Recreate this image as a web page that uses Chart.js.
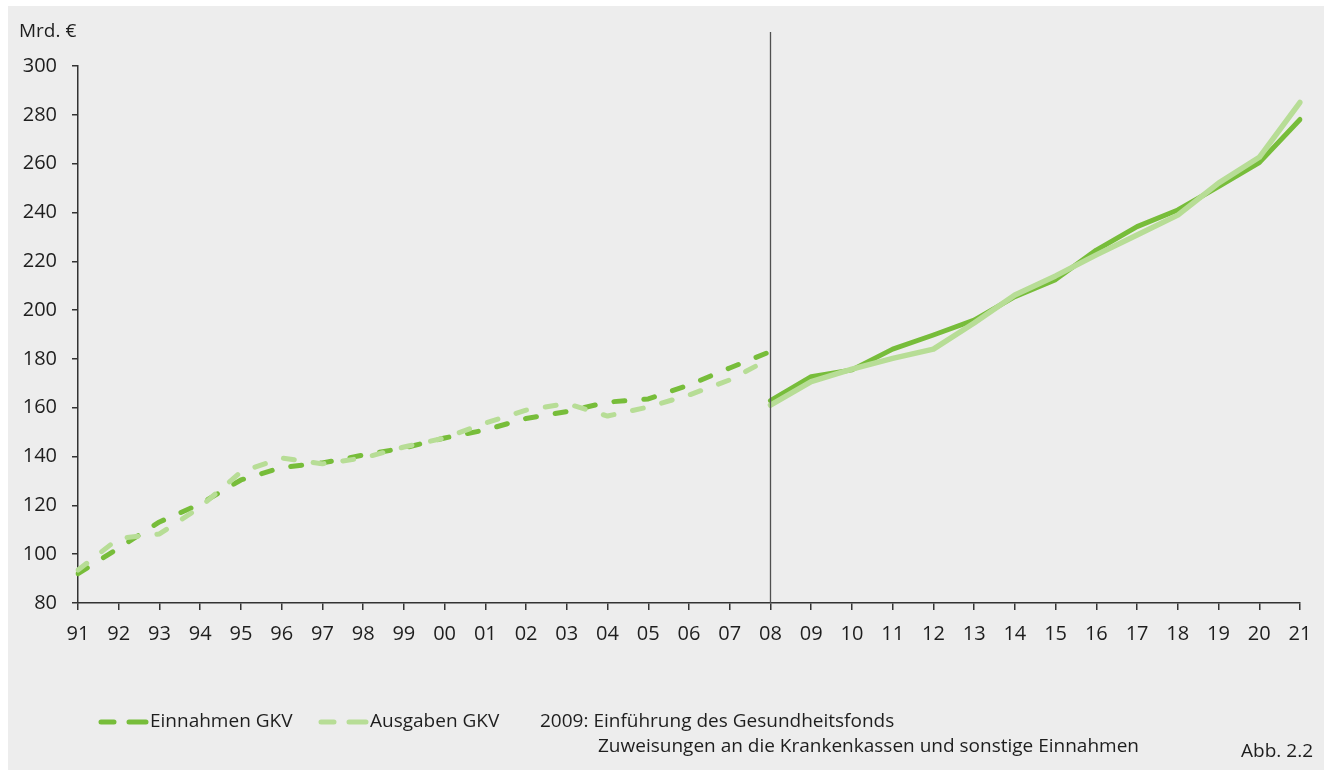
<!DOCTYPE html>
<html>
<head>
<meta charset="utf-8">
<script src="https://cdn.jsdelivr.net/npm/chart.js@4.4.1/dist/chart.umd.min.js"></script>
<style>
  html, body { margin: 0; padding: 0; background: #ffffff; }
  #wrap { width: 1325px; height: 771px; }
</style>
</head>
<body>
<div id="wrap"><canvas id="c" width="1325" height="771"></canvas></div>
<script>
// ---- Data ----
const years = ['91','92','93','94','95','96','97','98','99','00','01','02','03','04','05','06','07','08','09','10','11','12','13','14','15','16','17','18','19','20','21'];
// 1991–2008 (dashed)
const einnahmenBis2008 = [92, 102.5, 113.2, 120.6, 130.4, 135.5, 137.4, 140.6, 143.5, 147.6, 150.9, 155.6, 158.4, 162.3, 163.6, 169.3, 176.3, 183];
const ausgabenBis2008  = [93.5, 106.5, 108.3, 119.3, 133.7, 139.4, 137, 139.4, 143.9, 147.6, 153.7, 159, 161.7, 156.6, 160.3, 165.2, 171.4, 180.2];
// 2008–2021 (solid, ab 2009 Gesundheitsfonds)
const einnahmenAb2008 = [162.9, 172.7, 175.5, 184, 189.8, 195.9, 205.5, 212.5, 224.6, 234.2, 241, 250.6, 260.4, 278.1];
const ausgabenAb2008  = [161.1, 170.7, 175.8, 180.2, 184, 194.7, 206.2, 214, 222.6, 230.8, 238.9, 252, 262.6, 285.1];
const yTicks = [80,100,120,140,160,180,200,220,240,260,280,300];
const breakYear = '08';

const seriesNames = ['Einnahmen GKV', 'Ausgaben GKV'];
const noteLines = ['2009: Einführung des Gesundheitsfonds', 'Zuweisungen an die Krankenkassen und sonstige Einnahmen'];
const unitLabel = 'Mrd. €';
const figLabel = 'Abb. 2.2';

// ---- Styling ----
const DARK = '#77bd3a';
const LIGHT = '#b7dd96';
const FONT = '"Open Sans", "Noto Sans", sans-serif';
const TXT = '#1e1e1e';

const breakIdx = years.indexOf(breakYear);
function padBefore(arr) { return years.map((y, i) => i < arr.length ? arr[i] : null); }
function padAfter(arr) { return years.map((y, i) => i >= breakIdx ? arr[i - breakIdx] : null); }

const bgPlugin = {
  id: 'bg',
  beforeDraw(chart) {
    const ctx = chart.ctx;
    ctx.save();
    ctx.fillStyle = '#ffffff';
    ctx.fillRect(0, 0, chart.width, chart.height);
    ctx.fillStyle = '#ededed';
    ctx.fillRect(8, 6, 1316, 764);
    ctx.restore();
  }
};

const decoPlugin = {
  id: 'deco',
  afterDatasetsDraw(chart) {
    const ctx = chart.ctx;
    const xs = chart.scales.x;
    const x = Math.round(xs.getPixelForValue(breakIdx)) + 0.5;
    ctx.save();
    ctx.strokeStyle = '#505050';
    ctx.lineWidth = 1.3;
    ctx.beginPath();
    ctx.moveTo(x, 32);
    ctx.lineTo(x, chart.chartArea.bottom);
    ctx.stroke();
    ctx.restore();
  },
  afterDraw(chart) {
    const ctx = chart.ctx;
    ctx.save();
    ctx.fillStyle = TXT;
    ctx.textBaseline = 'middle';
    ctx.textAlign = 'left';
    ctx.font = '19px ' + FONT;
    ctx.fillText(unitLabel, 19, 32);

    // legend
    const ly = 722;
    const drawSample = (x0, color) => {
      ctx.strokeStyle = color;
      ctx.lineWidth = 5;
      ctx.lineCap = 'round';
      ctx.beginPath();
      ctx.moveTo(x0 + 3, ly); ctx.lineTo(x0 + 16, ly);
      ctx.moveTo(x0 + 31, ly); ctx.lineTo(x0 + 48, ly);
      ctx.stroke();
    };
    drawSample(98, DARK);
    ctx.fillText(seriesNames[0], 150, ly);
    drawSample(318, LIGHT);
    ctx.fillText(seriesNames[1], 370, ly);
    ctx.fillText(noteLines[0], 540, ly);
    ctx.fillText(noteLines[1], 598, 747);
    ctx.textAlign = 'right';
    ctx.fillText(figLabel, 1313, 752);
    ctx.restore();
  }
};

new Chart(document.getElementById('c'), {
  type: 'line',
  data: {
    labels: years,
    datasets: [
      { label: seriesNames[1], data: padBefore(ausgabenBis2008), borderColor: LIGHT, borderWidth: 5, borderDash: [11, 19], borderCapStyle: 'round', order: 0 },
      { label: seriesNames[1], data: padAfter(ausgabenAb2008), borderColor: LIGHT, borderWidth: 5.5, borderCapStyle: 'round', order: 0 },
      { label: seriesNames[0], data: padBefore(einnahmenBis2008), borderColor: DARK, borderWidth: 5, borderDash: [11, 19], borderCapStyle: 'round', order: 1 },
      { label: seriesNames[0], data: padAfter(einnahmenAb2008), borderColor: DARK, borderWidth: 5, borderCapStyle: 'round', order: 1 }
    ]
  },
  options: {
    responsive: false,
    animation: false,
    devicePixelRatio: 1,
    spanGaps: false,
    elements: { point: { radius: 0 }, line: { tension: 0, borderJoinStyle: 'round', fill: false } },
    layout: { padding: { left: 0, right: 25, top: 66, bottom: 0 } },
    plugins: { legend: { display: false }, tooltip: { enabled: false }, title: { display: false } },
    scales: {
      x: {
        type: 'category',
        offset: false,
        afterFit(s) { s.height = 168; },
        grid: { display: true, drawOnChartArea: false, drawTicks: true, tickLength: 7, color: '#333', lineWidth: 1.5 },
        border: { display: true, color: '#333', width: 1.5 },
        ticks: { color: TXT, font: { family: FONT, size: 20 }, padding: 12, autoSkip: false, maxRotation: 0 }
      },
      y: {
        min: 80, max: 300,
        afterFit(s) { s.width = 78; },
        afterBuildTicks(s) { s.ticks = yTicks.map(v => ({ value: v })); },
        grid: { display: true, drawOnChartArea: false, drawTicks: true, tickLength: 6, color: '#333', lineWidth: 1.5 },
        border: { display: true, color: '#333', width: 1.5 },
        ticks: { color: TXT, font: { family: FONT, size: 20 }, padding: 15 }
      }
    }
  },
  plugins: [bgPlugin, decoPlugin]
});
</script>
</body>
</html>
